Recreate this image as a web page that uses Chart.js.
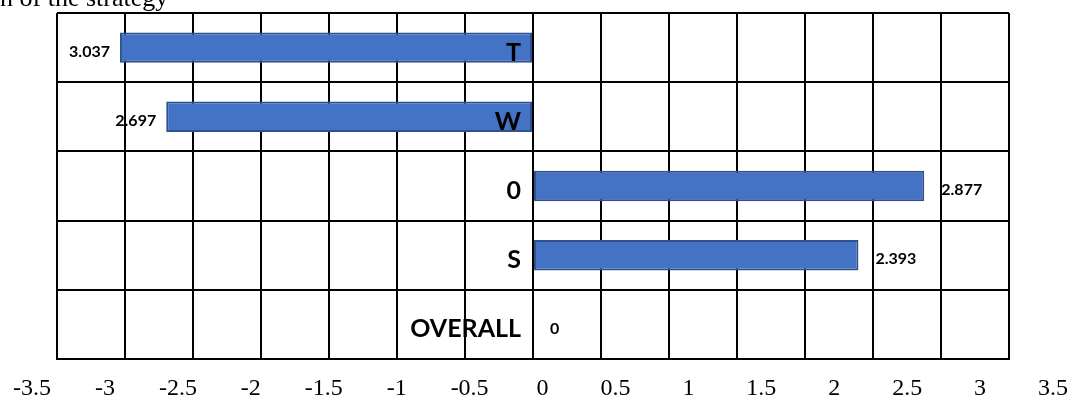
<!DOCTYPE html>
<html>
<head>
<meta charset="utf-8">
<script src="https://cdn.jsdelivr.net/npm/chart.js@4.4.1/dist/chart.umd.min.js"></script>
<style>
  html, body { margin: 0; padding: 0; background: #ffffff; }
  #wrap { width: 1070px; height: 396px; position: relative; overflow: hidden; }
</style>
</head>
<body>
<div id="wrap"><canvas id="swot" width="1070" height="396"></canvas></div>
<script>
// SWOT factor scores: threats and weaknesses pull left, opportunities and strengths push right
const categories = ['T', 'W', '0', 'S', 'OVERALL'];
const scores = [-3.037, -2.697, 2.877, 2.393, 0];

// bottom scale labels
const tickValues = [-3.5, -3, -2.5, -2, -1.5, -1, -0.5, 0, 0.5, 1, 1.5, 2, 2.5, 3, 3.5];
const tickLabels = ['-3.5', '-3', '-2.5', '-2', '-1.5', '-1', '-0.5', '0', '0.5', '1', '1.5', '2', '2.5', '3', '3.5'];

const captionText = 'n of the strategy';

// caption line clipped at the top edge of the canvas
const captionPlugin = {
  id: 'caption',
  afterDraw(chart) {
    const ctx = chart.ctx;
    ctx.save();
    ctx.fillStyle = '#000';
    ctx.font = '26px "Liberation Serif", "Times New Roman", serif';
    ctx.textAlign = 'left';
    ctx.textBaseline = 'alphabetic';
    ctx.fillText(captionText, 0, 6);
    ctx.restore();
  }
};

// category names sit beside the zero line, on top of the bars
const categoryLabelPlugin = {
  id: 'categoryLabels',
  afterDatasetsDraw(chart) {
    const ctx = chart.ctx;
    const xScale = chart.scales.x;
    const yScale = chart.scales.y;
    const x0 = xScale.getPixelForValue(0);
    ctx.save();
    ctx.fillStyle = '#000';
    ctx.font = 'bold 25px Lato, "Open Sans", sans-serif';
    ctx.textAlign = 'right';
    ctx.textBaseline = 'middle';
    chart.data.labels.forEach((label, i) => {
      ctx.fillText(label, x0 - 12, yScale.getPixelForTick(i) + 5);
    });
    ctx.restore();
  }
};

// value labels just beyond the end of each bar
const valueLabelPlugin = {
  id: 'valueLabels',
  afterDatasetsDraw(chart) {
    const ctx = chart.ctx;
    const meta = chart.getDatasetMeta(0);
    const values = chart.data.datasets[0].data;
    ctx.save();
    ctx.fillStyle = '#000';
    ctx.font = 'bold 16px Lato, "Open Sans", sans-serif';
    ctx.textBaseline = 'middle';
    meta.data.forEach((bar, i) => {
      const v = values[i];
      const text = String(Math.abs(v));
      if (v < 0) {
        ctx.textAlign = 'right';
        ctx.fillText(text, bar.x - 10, bar.y + 4);
      } else {
        ctx.textAlign = 'left';
        ctx.fillText(text, bar.x + 17, bar.y + 4);
      }
    });
    ctx.restore();
  }
};

new Chart(document.getElementById('swot'), {
  type: 'bar',
  data: {
    labels: categories,
    datasets: [{
      data: scores,
      backgroundColor: '#4472C4',
      borderColor: '#2F528F',
      borderWidth: 2,
      borderSkipped: false,
      categoryPercentage: 1,
      barPercentage: 0.44
    }]
  },
  options: {
    indexAxis: 'y',
    responsive: false,
    animation: false,
    devicePixelRatio: 1,
    layout: { padding: { left: 57, right: 61, top: 13, bottom: 0 } },
    plugins: {
      legend: { display: false },
      tooltip: { enabled: false }
    },
    scales: {
      x: {
        type: 'linear',
        position: 'bottom',
        min: -3.5,
        max: 3.5,
        ticks: { display: false, stepSize: 0.5 },
        grid: { color: '#000', lineWidth: 2, drawTicks: false },
        border: { display: true, color: '#000', width: 2 },
        afterFit(scale) {
          scale.height = 0;
          scale.paddingLeft = 0;
          scale.paddingRight = 0;
        }
      },
      // label row under the plot, spread a little wider than the grid
      xLabels: {
        type: 'linear',
        position: 'bottom',
        min: -3.329,
        max: 3.198,
        grid: { display: false, drawTicks: false },
        border: { display: false },
        ticks: {
          autoSkip: false,
          maxRotation: 0,
          minRotation: 0,
          padding: 15,
          color: '#000',
          font: { family: '"Liberation Serif", "Times New Roman", serif', size: 24 },
          callback: (value, index) => tickLabels[index]
        },
        afterBuildTicks(scale) {
          scale.ticks = tickValues.map(v => ({ value: v }));
        },
        afterFit(scale) {
          scale.height = 37;
          scale.paddingLeft = 0;
          scale.paddingRight = 0;
        }
      },
      y: {
        type: 'category',
        position: { x: 0 },
        grid: { color: '#000', lineWidth: 2, drawTicks: false, offset: true },
        border: { display: true, color: '#000', width: 2 },
        ticks: { display: false },
        afterFit(scale) {
          scale.paddingTop = 0;
          scale.paddingBottom = 0;
        }
      }
    }
  },
  plugins: [captionPlugin, categoryLabelPlugin, valueLabelPlugin]
});
</script>
</body>
</html>
